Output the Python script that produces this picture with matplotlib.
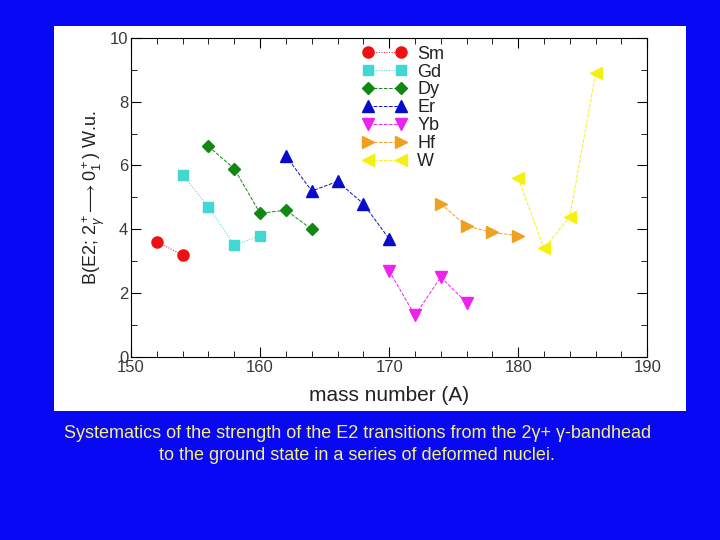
import matplotlib
matplotlib.use('Agg')
from matplotlib import pyplot as plt
from matplotlib.patches import Rectangle
from matplotlib.ticker import MultipleLocator

# Data.
smA = [152, 154]
smB = [3.6, 3.2]
gdA = [154, 156, 158, 160]
gdB = [5.7, 4.7, 3.5, 3.8]
dyA = [156, 158, 160, 162, 164]
dyB = [6.6, 5.9, 4.5, 4.6, 4.0]
erA = [162, 164, 166, 168, 170]
erB = [6.3, 5.2, 5.5, 4.8, 3.7]
ybA = [170, 172, 174, 176]
ybB = [2.7, 1.3, 2.5, 1.7]
hfA = [174, 176, 178, 180]
hfB = [4.8, 4.1, 3.9, 3.8]
wA = [180, 182, 184, 186]
wB = [5.6, 3.4, 4.4, 8.9]

plt.rcParams['font.family'] = ['Liberation Sans', 'DejaVu Sans']
plt.rcParams['mathtext.fontset'] = 'custom'
plt.rcParams['mathtext.rm'] = 'Liberation Sans'
plt.rcParams['mathtext.it'] = 'Liberation Sans:italic'

fig = plt.figure(figsize=(7.2, 5.4), dpi=100)
fig.patch.set_facecolor('#0808f4')

# White panel behind the plot.
fig.patches.append(Rectangle((0.075, 0.239), 0.878, 0.713, transform=fig.transFigure,
                             facecolor='white', edgecolor='none', zorder=-10))

ax = fig.add_axes([0.182, 0.339, 0.717, 0.591])
ax.set_facecolor('white')

series = [
  ('Sm', smA, smB, 'o', '#ee1111', ':', 8),
  ('Gd', gdA, gdB, 's', '#40d8d0', ':', 7.5),
  ('Dy', dyA, dyB, 'D', '#118811', '--', 6.5),
  ('Er', erA, erB, '^', '#0a0acc', '--', 8),
  ('Yb', ybA, ybB, 'v', '#ee22ee', '--', 8),
  ('Hf', hfA, hfB, '>', '#f0a020', '--', 8),
  ('W', wA, wB, '<', '#f4f010', '--', 8),
]
for name, a, b, m, c, ls, ms in series:
  ax.plot(a, b, marker=m, color=c, linestyle=ls, linewidth=0.7,
          markersize=ms, markeredgecolor=c, label=name)

ax.set_xlim(150, 190)
ax.set_ylim(0, 10)
ax.xaxis.set_major_locator(MultipleLocator(10))
ax.xaxis.set_minor_locator(MultipleLocator(2))
ax.yaxis.set_major_locator(MultipleLocator(2))
ax.yaxis.set_minor_locator(MultipleLocator(1))
ax.tick_params(which='both', direction='in', top=True, right=True,
               labelsize=12, labelcolor='#3a3a3a', pad=2)
ax.tick_params(which='major', length=7)
ax.tick_params(which='minor', length=4)

ax.set_xlabel('mass number (A)', fontsize=15, color='#222222', labelpad=8)
ax.set_ylabel(r'B(E2; $2^+_\gamma\!\longrightarrow 0^+_1$) W.u.', fontsize=13,
              color='#222222', labelpad=2)

ax.legend(loc='upper left', bbox_to_anchor=(0.425, 1.015), frameon=False,
          fontsize=13, handlelength=2.4, labelspacing=0.05, handletextpad=0.6,
          borderpad=0.2, numpoints=2, labelcolor='#222222')

fig.text(0.496, 0.198, 'Systematics of the strength of the E2 transitions from the 2\u03b3+ \u03b3-bandhead',
         ha='center', va='center', color='#f4f080', fontsize=13)
fig.text(0.496, 0.157, 'to the ground state in a series of deformed nuclei.',
         ha='center', va='center', color='#f4f080', fontsize=13)

fig.savefig('out.png', dpi=100, facecolor=fig.get_facecolor())
